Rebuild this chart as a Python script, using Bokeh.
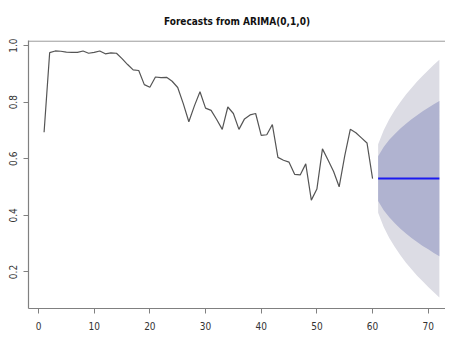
from bokeh.plotting import figure
from bokeh.models import Range1d, FixedTicker, Span, CustomJSTickFormatter
from bokeh.embed import file_html
from bokeh.resources import INLINE

# observed series (t = 1..60)
t_obs = list(range(1, 61))
y_obs = [0.694, 0.975, 0.981, 0.980, 0.977, 0.976, 0.976, 0.981, 0.973, 0.976,
         0.981, 0.971, 0.974, 0.973, 0.954, 0.933, 0.914, 0.912, 0.862, 0.853,
         0.889, 0.887, 0.888, 0.874, 0.852, 0.795, 0.731, 0.787, 0.837, 0.779,
         0.771, 0.739, 0.704, 0.783, 0.760, 0.704, 0.741, 0.755, 0.760, 0.683,
         0.685, 0.721, 0.605, 0.595, 0.588, 0.545, 0.543, 0.582, 0.454, 0.493,
         0.635, 0.596, 0.555, 0.501, 0.610, 0.704, 0.692, 0.674, 0.656, 0.530]

# forecast horizon (t = 61..72)
t_fc = list(range(61, 73))
fc_mean = [0.530] * 12
hi80 = [0.609, 0.642, 0.667, 0.688, 0.707, 0.724, 0.740, 0.754, 0.768, 0.780, 0.793, 0.804]
lo80 = [0.451, 0.418, 0.393, 0.372, 0.353, 0.336, 0.320, 0.306, 0.292, 0.280, 0.267, 0.256]
hi95 = [0.651, 0.701, 0.740, 0.772, 0.801, 0.827, 0.850, 0.873, 0.893, 0.913, 0.932, 0.950]
lo95 = [0.409, 0.359, 0.320, 0.288, 0.259, 0.233, 0.210, 0.187, 0.167, 0.147, 0.128, 0.110]

x_ticks = [0, 10, 20, 30, 40, 50, 60, 70]
y_ticks = [0.2, 0.4, 0.6, 0.8, 1.0]

FONT = "Liberation Sans Narrow, Arial Narrow, DejaVu Sans Condensed, Liberation Sans, sans-serif"

p = figure(width=445, height=333, output_backend="svg", toolbar_location=None,
           x_range=Range1d(-1.8, 73.1), y_range=Range1d(0.071, 1.018),
           title="Forecasts from ARIMA(0,1,0)",
           min_border_left=28, min_border_right=0, min_border_bottom=25, min_border_top=0)

p.title.align = "center"
p.title.text_font = FONT
p.title.text_font_size = "10px"
p.title.text_font_style = "bold"
p.title.text_color = "#111111"
p.title.standoff = 27

p.grid.visible = False
p.outline_line_color = None
p.background_fill_color = "white"
p.border_fill_color = "white"

p.varea(x=t_fc, y1=lo95, y2=hi95, fill_color="#DCDCE4")
p.varea(x=t_fc, y1=lo80, y2=hi80, fill_color="#B0B3D0")
p.line(t_obs, y_obs, line_color="#555555", line_width=1.2)
p.line(t_fc, fc_mean, line_color="#1A1AF0", line_width=2)

p.add_layout(Span(location=1.016, dimension="width", line_color="#808080", line_width=1))

for ax in (p.xaxis, p.yaxis):
    ax.axis_line_color = "#808080"
    ax.axis_line_width = 1.2
    ax.major_tick_line_color = "#808080"
    ax.major_tick_in = 0
    ax.major_tick_out = 5
    ax.minor_tick_line_color = None
    ax.major_label_text_font = FONT
    ax.major_label_text_font_size = "10px"
    ax.major_label_text_color = "#333333"

p.xaxis.ticker = FixedTicker(ticks=x_ticks)
p.yaxis.ticker = FixedTicker(ticks=y_ticks)
p.yaxis.formatter = CustomJSTickFormatter(code="return tick.toFixed(1);")
p.xaxis.major_label_standoff = 8
p.yaxis.major_label_orientation = "vertical"
p.yaxis.major_label_standoff = 6

open("out.html", "w").write(file_html(p, INLINE))
